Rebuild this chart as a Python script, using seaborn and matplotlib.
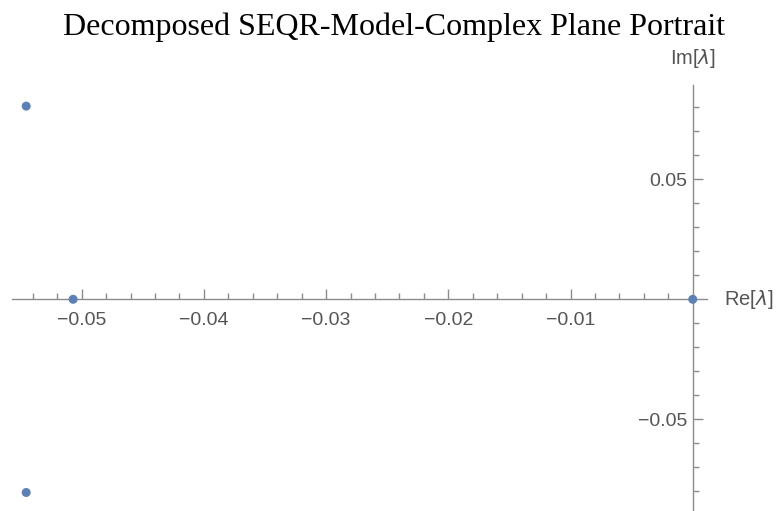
import matplotlib
matplotlib.use("Agg")
import matplotlib.pyplot as plt
import seaborn as sns
import pandas as pd
import numpy as np
from matplotlib.ticker import FixedLocator, FuncFormatter

# Eigenvalues (real, imaginary parts)
re_vals = [-0.05454, -0.05454, -0.0507, 0.0]
im_vals = [0.0805, -0.0805, 0.0, 0.0]

x_major = [-0.05, -0.04, -0.03, -0.02, -0.01]
y_major = [-0.05, 0.05]

sns.set_theme(style="white")
plt.rcParams['font.family'] = ['Liberation Sans', 'DejaVu Sans']

df = pd.DataFrame({"re": re_vals, "im": im_vals})

fig = plt.figure(figsize=(7.77, 5.11), dpi=100)
W, H = 777, 511
left_px, right_px, top_px, bot_px = 12, 706.7, 85, 510
ax = fig.add_axes([left_px / W, 1 - bot_px / H, (right_px - left_px) / W, (bot_px - top_px) / H])

sns.scatterplot(data=df, x="re", y="im", ax=ax, color="#5E81B5", s=42,
                edgecolor="none", zorder=5, clip_on=False)

ax.set_xlim(-0.0557, 0.00114)
ax.set_ylim(-0.0878, 0.0893)

axis_col = "#8c8c8c"
for s in ["top", "right"]:
    ax.spines[s].set_visible(False)
ax.spines["left"].set_position(("data", 0))
ax.spines["bottom"].set_position(("data", 0))
for s in ["left", "bottom"]:
    ax.spines[s].set_color(axis_col)
    ax.spines[s].set_linewidth(1.0)

ax.xaxis.set_major_locator(FixedLocator(x_major))
ax.yaxis.set_major_locator(FixedLocator(y_major))
ax.xaxis.set_minor_locator(FixedLocator([v for v in np.arange(-0.054, 0.0001, 0.002)
                                         if all(abs(v - m) > 1e-6 for m in x_major) and abs(v) > 1e-6]))
ax.yaxis.set_minor_locator(FixedLocator([v for v in np.arange(-0.08, 0.0801, 0.01)
                                         if all(abs(v - m) > 1e-6 for m in y_major) and abs(v) > 1e-6]))

fmt = FuncFormatter(lambda v, p: ("\u2212" if v < 0 else "") + f"{abs(v):.2f}")
ax.xaxis.set_major_formatter(fmt)
ax.yaxis.set_major_formatter(fmt)

ax.tick_params(axis="both", which="major", direction="in", length=7.5, width=1.0,
               color=axis_col, labelsize=14, labelcolor="#555555")
ax.tick_params(axis="both", which="minor", direction="in", length=4.5, width=1.0,
               color=axis_col)
ax.tick_params(axis="x", which="both", bottom=True, top=False)
ax.tick_params(axis="y", which="both", left=True, right=False)
ax.tick_params(axis="x", which="major", pad=9)
ax.tick_params(axis="y", which="major", pad=4)

ax.set_xlabel("")
ax.set_ylabel("")
ax.grid(False)

fig.text(692.7 / W, 1 - 58 / H, "Im[$\\lambda$]", ha="center", va="center",
         fontsize=14.5, color="#555555")
fig.text(724 / W, 1 - 299 / H, "Re[$\\lambda$]", ha="left", va="center",
         fontsize=14.5, color="#555555")

fig.text(394 / W, 1 - 27 / H, "Decomposed SEQR-Model-Complex Plane Portrait",
         ha="center", va="center", fontsize=23, color="black",
         family=["Liberation Serif", "DejaVu Serif"])

fig.savefig("out.png", dpi=100)
